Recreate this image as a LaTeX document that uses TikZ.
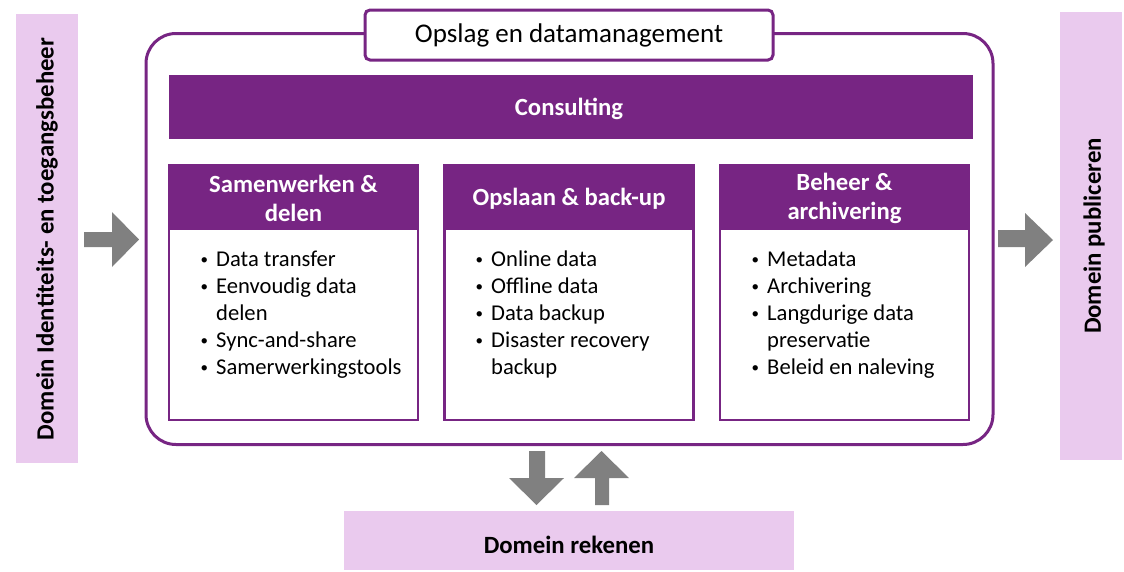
\documentclass[tikz,border=0pt]{standalone}
\usepackage{fontspec}
\setmainfont{Carlito}
\definecolor{purp}{HTML}{772583}
\definecolor{pinkf}{HTML}{EACAEE}
\definecolor{agray}{HTML}{808080}
\tikzset{
  domainbox/.style={fill=pinkf, draw=none, inner sep=0pt},
  headbox/.style={fill=purp, draw=none, inner sep=0pt, text=white, font=\bfseries\fontsize{24.7}{29}\selectfont, align=center},
  bodybox/.style={draw=purp, line width=2.5pt, fill=white, inner sep=0pt},
  itemline/.style={anchor=base west, inner sep=0pt, font=\fontsize{22.6}{27}\selectfont},
  blockarrow/.style={fill=agray, draw=none},
  domaintext/.style={font=\bfseries\fontsize{24.8}{29}\selectfont, inner sep=0pt},
}
\newcommand{\bul}{\llap{\raisebox{1.5pt}{\fontsize{15}{15}\selectfont\textbullet}\hspace{8pt}}}
\begin{document}
\begin{tikzpicture}[x=1pt,y=-1pt]
\useasboundingbox (0,0) rectangle (1124,571);
% side and bottom domains
\node[domainbox, minimum width=62pt, minimum height=449pt] (left) at (47,238.5) {};
\node[domaintext, rotate=90] (lefttext) at (47,239) {Domein Identiteits- en toegangsbeheer};
\node[domainbox, minimum width=62pt, minimum height=448pt] (right) at (1091,236) {};
\node[domaintext, rotate=90] (righttext) at (1094,236) {Domein publiceren};
\node[domainbox, minimum width=450pt, minimum height=59pt] (bottom) at (569,540.5) {};
\node[domaintext] (bottomtext) at (569,545) {Domein rekenen};
% main box
\node[draw=purp, line width=3pt, rounded corners=30pt, minimum width=847pt, minimum height=411pt, inner sep=0pt] (main) at (569.5,239) {};
\node[draw=purp, line width=3pt, rounded corners=5pt, fill=white, minimum width=408pt, minimum height=50pt, inner sep=0pt, font=\fontsize{27}{32}\selectfont] (title) at (569,35) {Opslag en datamanagement};
% consulting
\node[fill=purp, minimum width=804pt, minimum height=64pt, inner sep=0pt] (consult) at (571,107) {};
\node[headbox] (consulttext) at (569,109) {Consulting};
% columns
\foreach \n/\cx in {1/293.5, 2/569, 3/844.5} {
  \node[bodybox, minimum width=249pt, minimum height=191pt] (body\n) at (\cx,324.5) {};
  \node[fill=purp, minimum width=251.5pt, minimum height=65pt, inner sep=0pt] (head\n) at (\cx,196.5) {};
}
\node[headbox] (h1) at (293.5,198) {Samenwerken \&\\delen};
\node[headbox] (h2) at (569,199) {Opslaan \& back-up};
\node[headbox] (h3) at (844.5,198) {Beheer \&\\archivering};
% items
\foreach \t [count=\i] in {\bul Data transfer, \bul Eenvoudig data, delen, \bul Sync-and-share, \bul Samerwerkingstools}
  \node[itemline] (a\i) at (216,266+27*\i-27) {\t};
\foreach \t [count=\i] in {\bul Online data, \bul Offline data, \bul Data backup, \bul Disaster recovery, backup}
  \node[itemline] (b\i) at (491,266+27*\i-27) {\t};
\foreach \t [count=\i] in {\bul Metadata, \bul Archivering, \bul Langdurige data, preservatie, \bul Beleid en naleving}
  \node[itemline] (c\i) at (767,266+27*\i-27) {\t};
% block arrows
\fill[blockarrow] (84,232) -- (112,232) -- (112,212) -- (139,239.5) -- (112,267) -- (112,247) -- (84,247) -- cycle;
\fill[blockarrow] (998,230) -- (1025,230) -- (1025,213) -- (1053,240) -- (1025,267) -- (1025,247) -- (998,247) -- cycle;
\fill[blockarrow] (529,451) -- (545,451) -- (545,478) -- (564,478) -- (536.5,505) -- (509,478) -- (529,478) -- cycle;
\fill[blockarrow] (595,505) -- (609,505) -- (609,478) -- (629,478) -- (601.5,451) -- (574,478) -- (595,478) -- cycle;
\end{tikzpicture}
\end{document}
